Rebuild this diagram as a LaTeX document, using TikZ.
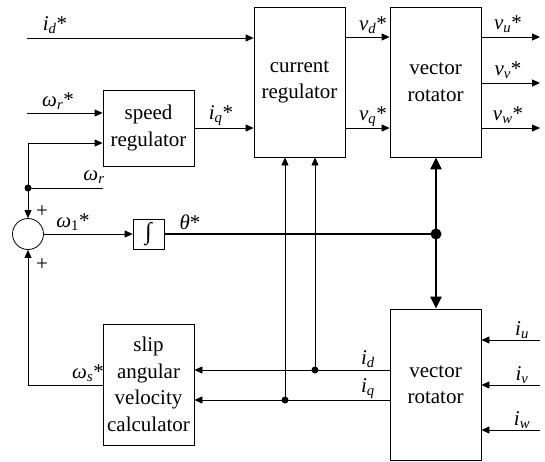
\documentclass[tikz,border=0pt]{standalone}
\usepackage{fontspec}
\setmainfont{LiberationSerif}[Extension=.ttf,UprightFont=*-Regular,ItalicFont=*-Italic,BoldFont=*-Bold,BoldItalicFont=*-BoldItalic]
\usetikzlibrary{arrows.meta}
\newcommand\vb[2]{\textit{#1}\textsubscript{\textit{#2}}}
\begin{document}
\begin{tikzpicture}[x=1pt,y=-1pt,
  font=\fontsize{21}{26.5}\selectfont,
  blk/.style={draw,line width=0.8pt,rectangle,align=center,inner sep=0pt},
  lbl/.style={inner sep=0pt,font=\fontsize{21}{22}\selectfont},
  ln/.style={line width=0.8pt},
  arr/.style={ln,-{Triangle[length=8pt,width=7pt]}},
  thk/.style={line width=2.6pt},
  tharr/.style={thk,-{Triangle[length=12pt,width=11pt]}},
  dotc/.style={circle,fill,inner sep=0pt,minimum size=7pt}]
\useasboundingbox (0,0) rectangle (545,461);
% blocks
\node[blk,minimum width=91pt,minimum height=150pt] (CR) at (299.5,82) {current\\regulator};
\node[blk,minimum width=91pt,minimum height=150pt] (VR1) at (435.5,82) {vector\\rotator};
\node[blk,minimum width=91pt,minimum height=76pt] (SR) at (148.5,128) {speed\\regulator};
\node[blk,minimum width=31pt,minimum height=30pt,font=\fontsize{24}{24}\selectfont] (INT) at (148.5,234) {∫};
\node[draw,ln,circle,minimum size=31pt,inner sep=0pt] (SUM) at (28,234) {};
\node[blk,minimum width=91pt,minimum height=151pt] (VR2) at (435.5,384.5) {vector\\rotator};
\node[blk,minimum width=91pt,minimum height=121pt] (SC) at (148.5,384.5) {slip\\angular\\velocity\\calculator};
% coordinates
\coordinate (idin) at (27,38);
\coordinate (wrin) at (27,113);
\node[dotc] (fb) at (28,188) {};
\coordinate (fbup) at (28,143);
\coordinate (wrend) at (103,188);
\node[dotc,minimum size=11pt] (J) at (436,234) {};
\coordinate (out1) at (540,37);
\coordinate (out2) at (540,83);
\coordinate (out3) at (540,128);
\coordinate (in1) at (540,340);
\coordinate (in2) at (540,385);
\coordinate (in3) at (540,430);
\coordinate (idv) at (VR2.west |- 0,370);
\coordinate (iqv) at (VR2.west |- 0,400);
\node[dotc] (d1) at (315,370) {};
\node[dotc] (d2) at (285,400) {};
\coordinate (wsc) at (SC.west |- 0,385);
\coordinate (wscorner) at (28,385);
% connectors
\draw[arr] (idin) -- (idin -| CR.west);
\draw[arr] (wrin) -- (wrin -| SR.west);
\draw[arr] (SR.east) -- (SR.east -| CR.west);
\draw[arr] (fb.center) -- (fbup) -- (fbup -| SR.west);
\draw[ln] (fb.center) -- (wrend);
\draw[arr] (fb.center) -- (SUM.north);
\draw[arr] (SUM.east) -- (INT.west);
\draw[thk] (INT.east) -- (J.center);
\draw[tharr] (J.center) -- (VR1.south -| J);
\draw[tharr] (J.center) -- (VR2.north -| J);
\draw[arr] (CR.east |- 0,37) -- (VR1.west |- 0,37);
\draw[arr] (CR.east |- 0,128) -- (VR1.west |- 0,128);
\draw[arr] (out1 -| VR1.east) -- (out1);
\draw[arr] (out2 -| VR1.east) -- (out2);
\draw[arr] (out3 -| VR1.east) -- (out3);
\draw[arr] (in1) -- (in1 -| VR2.east);
\draw[arr] (in2) -- (in2 -| VR2.east);
\draw[arr] (in3) -- (in3 -| VR2.east);
\draw[arr] (idv) -- (idv -| SC.east);
\draw[arr] (iqv) -- (iqv -| SC.east);
\draw[arr] (d1.center) -- (d1 |- CR.south);
\draw[arr] (d2.center) -- (d2 |- CR.south);
\draw[arr] (wsc) -- (wscorner) -- (SUM.south);
% labels
\node[lbl] (Lid) at (55,25) {\vb{i}{d}*};
\node[lbl] (Lwr) at (58,101) {\vb{ω}{r}*};
\node[lbl] (Liq) at (221,116) {\vb{i}{q}*};
\node[lbl] (Lwr2) at (94,177) {\vb{ω}{r}};
\node[lbl] (Lp1) at (42,212) {+};
\node[lbl] (Lp2) at (42,265) {+};
\node[lbl] (Lw1) at (73,222) {\textit{ω}\textsubscript{1}*};
\node[lbl] (Lth) at (190,222) {\textit{θ}*};
\node[lbl] (Lvd) at (373,25) {\vb{v}{d}*};
\node[lbl] (Lvq) at (373,117) {\vb{v}{q}*};
\node[lbl] (Lvu) at (508,24) {\vb{v}{u}*};
\node[lbl] (Lvv) at (508,70) {\vb{v}{v}*};
\node[lbl] (Lvw) at (508,115) {\vb{v}{w}*};
\node[lbl] (Lid2) at (368,359) {\vb{i}{d}};
\node[lbl] (Liq2) at (368,389) {\vb{i}{q}};
\node[lbl] (Liu) at (522,330) {\vb{i}{u}};
\node[lbl] (Liv) at (522,375) {\vb{i}{v}};
\node[lbl] (Liw) at (522,420) {\vb{i}{w}};
\node[lbl] (Lws) at (88,373) {\vb{ω}{s}*};
\end{tikzpicture}
\end{document}
